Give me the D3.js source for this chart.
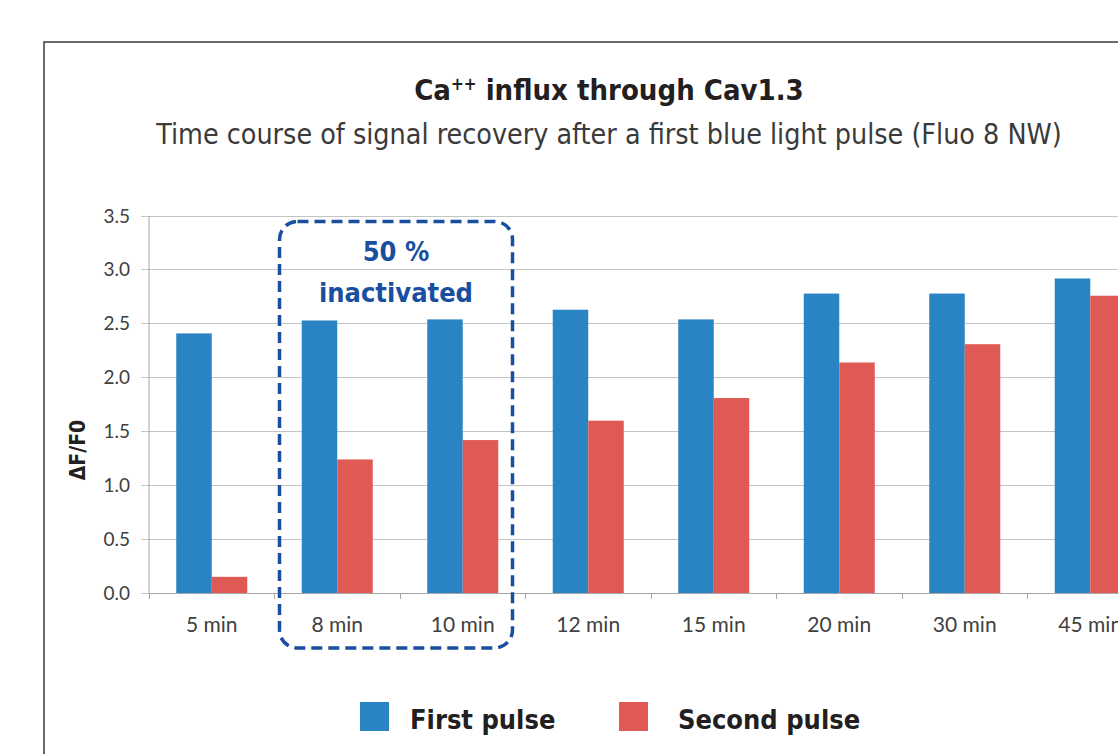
<!DOCTYPE html>
<meta charset="utf-8">
<style>
body { margin: 0; background: #fff; }
svg { display: block; }
.axis path, .axis line { stroke: #a6a6a6; shape-rendering: crispEdges; }
.axis text { font-family: Lato, "Open Sans", sans-serif; fill: #404040; }
.grid line { stroke: #c4c4c4; shape-rendering: crispEdges; }
.title { font-family: "Liberation Sans Narrow", "DejaVu Sans Condensed", sans-serif; fill: #231f20; }
</style>
<svg id="chart" width="1118" height="754"></svg>
<script src="https://d3js.org/d3.v7.min.js"></script>
<script>

var categories = ["5 min", "8 min", "10 min", "12 min", "15 min", "20 min", "30 min", "45 min"];
var firstPulse = [2.41, 2.53, 2.54, 2.63, 2.54, 2.78, 2.78, 2.92];
var secondPulse = [0.15, 1.24, 1.42, 1.60, 1.81, 2.14, 2.31, 2.76];
var seriesNames = ["First pulse", "Second pulse"];
var seriesColors = ["#2a84c4", "#e05a55"];
var yTicks = [0, 0.5, 1, 1.5, 2, 2.5, 3, 3.5];

var svg = d3.select("#chart"),
    margin = {top: 216, left: 149},
    width = 125.5 * 8,
    height = 377;

// outer frame (runs off the right and bottom edges)
svg.append("rect")
    .attr("x", 44).attr("y", 42)
    .attr("width", 1200).attr("height", 800)
    .attr("fill", "none")
    .attr("stroke", "#3a3a3a")
    .attr("stroke-width", 1.5);

svg.append("text")
    .attr("class", "title")
    .attr("x", 609).attr("y", 100)
    .attr("text-anchor", "middle")
    .style("font-size", "29px")
    .style("font-weight", "bold")
    .html('Ca<tspan dy="-10" font-size="17px">++</tspan><tspan dy="10"> influx through Cav1.3</tspan>');

svg.append("text")
    .attr("class", "title")
    .attr("x", 609).attr("y", 144)
    .attr("text-anchor", "middle")
    .style("font-size", "28.4px")
    .style("fill", "#3a3a3a")
    .text("Time course of signal recovery after a first blue light pulse (Fluo 8 NW)");

var x = d3.scaleBand()
    .domain(categories)
    .range([0, width]);

var x1 = d3.scaleBand()
    .domain([0, 1])
    .range([0, 71]);

var y = d3.scaleLinear()
    .domain([0, 3.5])
    .range([height, 0]);

var g = svg.append("g")
    .attr("transform", "translate(" + margin.left + "," + margin.top + ")");

g.append("g")
    .attr("class", "grid")
  .selectAll("line")
  .data(yTicks)
  .enter().append("line")
    .attr("x1", -8)
    .attr("x2", width)
    .attr("y1", function(d) { return y(d); })
    .attr("y2", function(d) { return y(d); });

g.append("g")
    .attr("class", "axis")
    .call(d3.axisLeft(y).tickValues(yTicks).tickFormat(d3.format(".1f")).tickSize(0).tickPadding(19))
    .call(function(s) {
      s.select(".domain").remove();
      s.selectAll("text").style("font-size", "19px");
    });

g.append("line")
    .attr("class", "axis")
    .attr("x1", 0).attr("x2", 0)
    .attr("y1", 0).attr("y2", height)
    .attr("stroke", "#a6a6a6");

var xAxis = g.append("g")
    .attr("class", "axis")
    .attr("transform", "translate(0," + height + ")")
    .call(d3.axisBottom(x).tickSize(0).tickPadding(24));
xAxis.selectAll("text").style("font-size", "21px");
xAxis.select(".domain").attr("d", "M0,0H" + width);
xAxis.selectAll(".sep")
  .data(categories)
  .enter().append("line")
    .attr("x1", function(d) { return x(d); })
    .attr("x2", function(d) { return x(d); })
    .attr("y1", 0).attr("y2", 6)
    .attr("stroke", "#a6a6a6");

var rows = categories.map(function(c, i) { return {cat: c, values: [firstPulse[i], secondPulse[i]]}; });

var group = g.selectAll(".cat")
    .data(rows)
  .enter().append("g")
    .attr("class", "cat")
    .attr("transform", function(d) { return "translate(" + (x(d.cat) + (x.bandwidth() - 71) / 2) + ",0)"; });

group.selectAll("rect")
    .data(function(d) { return d.values; })
  .enter().append("rect")
    .attr("x", function(d, i) { return x1(i); })
    .attr("width", x1.bandwidth())
    .attr("y", function(d) { return y(d); })
    .attr("height", function(d) { return height - y(d); })
    .attr("fill", function(d, i) { return seriesColors[i]; });

// dashed annotation box round 8 and 10 min
var bx0 = x("8 min") + 5,
    bx1 = x("10 min") + x.bandwidth() - 13;
g.append("rect")
    .attr("x", bx0).attr("y", y(3.45))
    .attr("width", bx1 - bx0)
    .attr("height", height - y(3.45) + 55)
    .attr("rx", 18).attr("ry", 18)
    .attr("fill", "none")
    .attr("stroke", "#1a4f9f")
    .attr("stroke-width", 3.5)
    .attr("stroke-dasharray", "11,6");

var note = g.append("text")
    .attr("class", "title")
    .attr("text-anchor", "middle")
    .style("font-size", "27px")
    .style("font-weight", "bold")
    .style("fill", "#1a4f9f");
note.append("tspan").attr("x", (bx0 + bx1) / 2).attr("y", y(3.5) + 45).text("50 %");
note.append("tspan").attr("x", (bx0 + bx1) / 2).attr("y", y(3.5) + 86).text("inactivated");

svg.append("text")
    .attr("class", "title")
    .attr("transform", "translate(85,450) rotate(-90)")
    .attr("text-anchor", "middle")
    .style("font-size", "21px")
    .style("font-weight", "bold")
    .text("\u0394F/F0");

// legend
var legend = svg.selectAll(".legend")
    .data(seriesNames)
  .enter().append("g")
    .attr("class", "legend")
    .attr("transform", function(d, i) { return "translate(" + [360, 619][i] + ",702)"; });

legend.append("rect")
    .attr("width", 29).attr("height", 29)
    .attr("fill", function(d, i) { return seriesColors[i]; });

legend.append("text")
    .attr("class", "title")
    .attr("x", function(d, i) { return [50, 59][i]; })
    .attr("y", 27)
    .style("font-size", "27px")
    .style("font-weight", "bold")
    .text(function(d) { return d; });

</script>
